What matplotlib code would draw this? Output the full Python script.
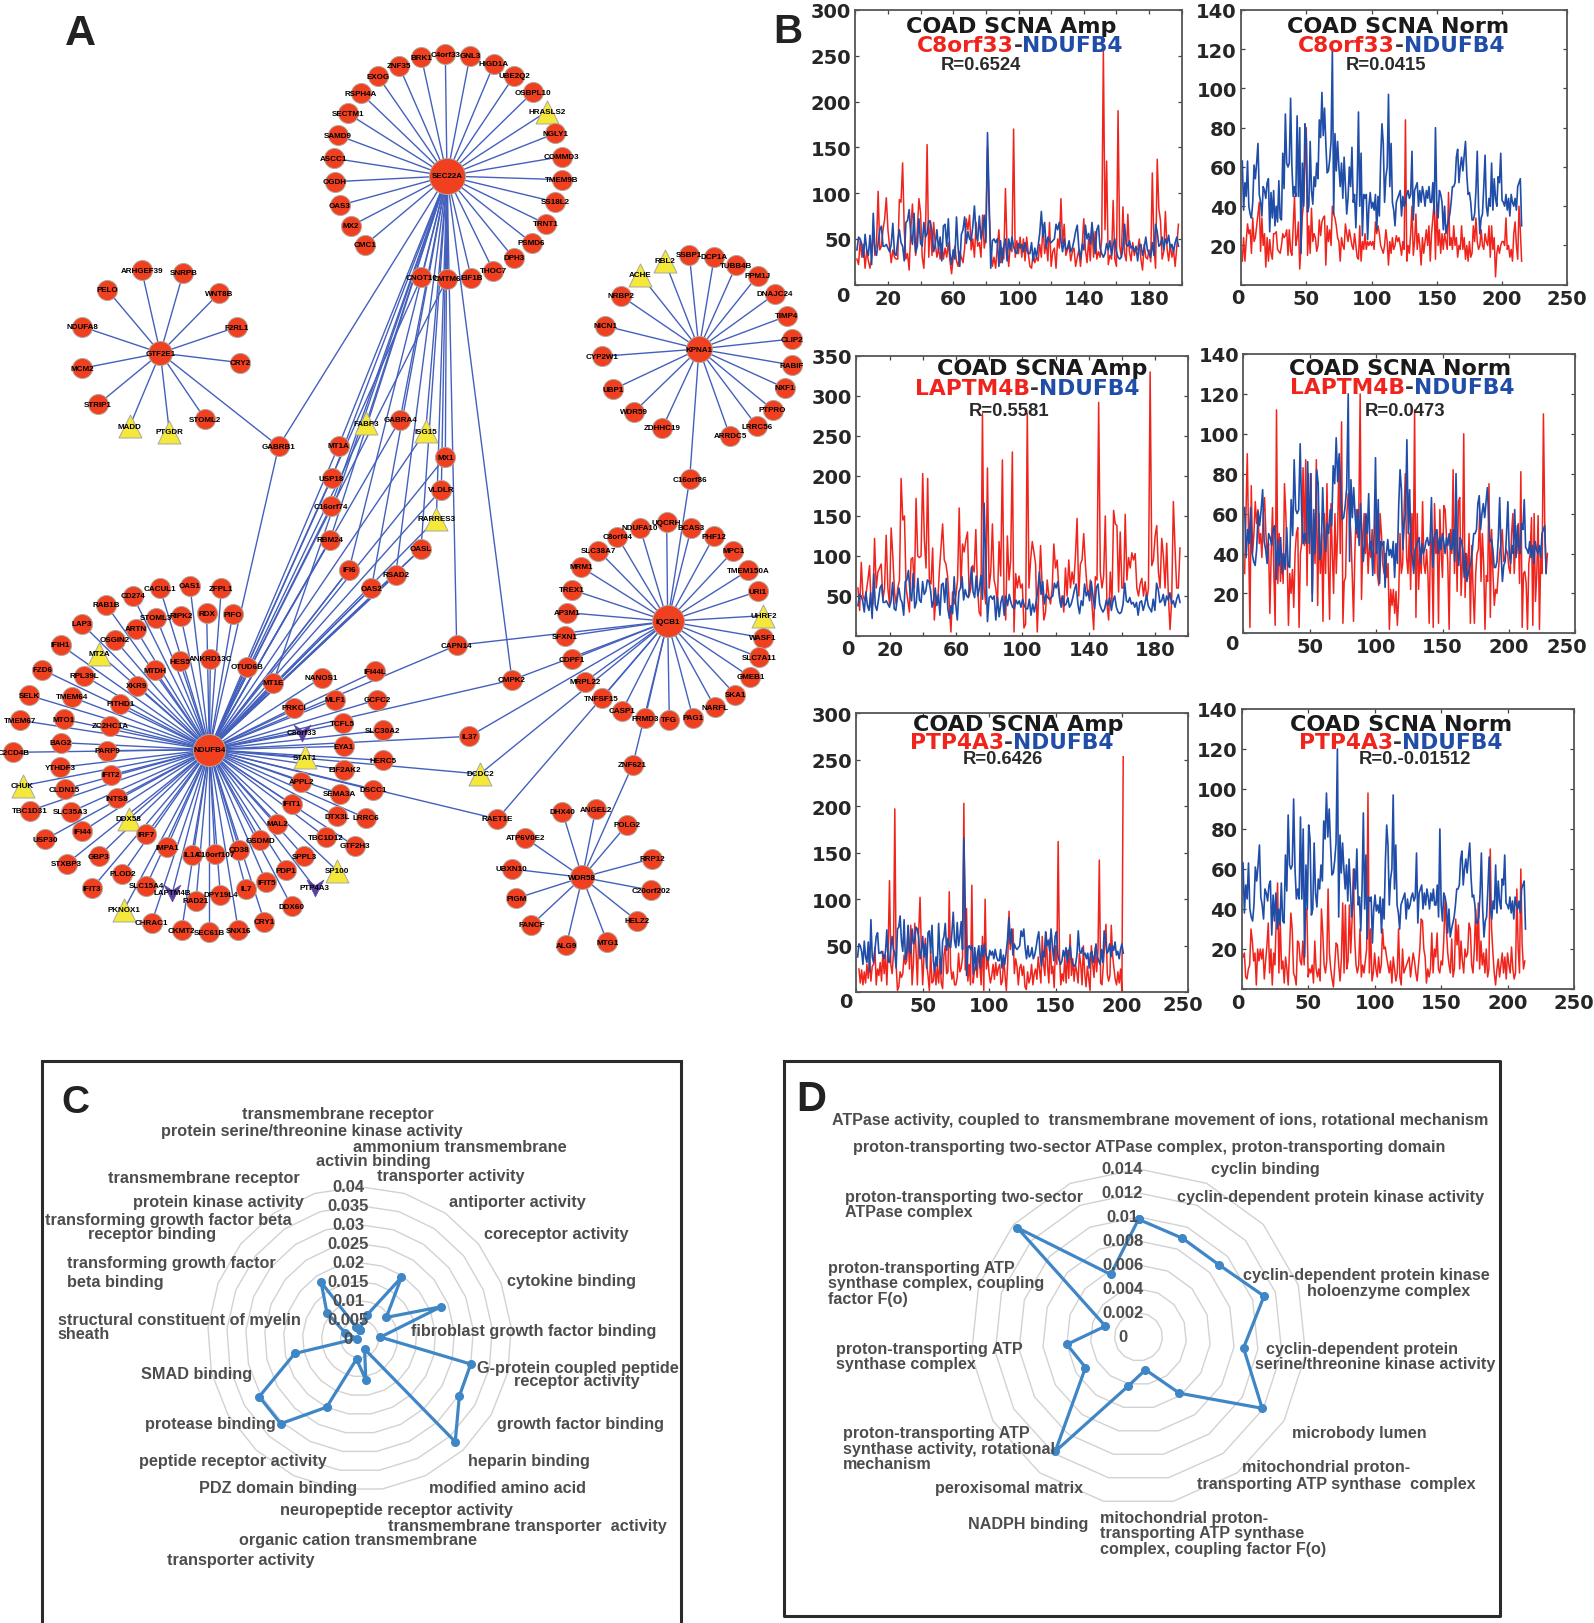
import numpy as np
import matplotlib
matplotlib.use("Agg")
import matplotlib.pyplot as plt
from matplotlib.path import Path

W, H = 1594, 1624

# ---------- panel B data ----------
AMP_BLUE = [38,52,50,44,30,55,38,32,54,22, 78,38,32,45,60,64,42,42,44,40, 36,44,67,34,32,48,60,46,42,26,
 68,70,82,55,44,78,35,42,72,45, 42,68,52,56,70,68,58,36,44,60, 38,52,26,64,66,42,72,34,22,38,
 28,74,40,20,55,60,74,45,58,50, 48,64,86,55,48,75,50,60,76,46, 166,90,18,48,50,46,50,20,48,24,
 42,50,26,50,38,52,42,36,34,45, 40,44,36,46,38,34,34,46,26,40, 30,42,56,80,52,68,40,52,48,46,
 48,50,66,60,68,48,36,50,38,40, 48,36,40,48,58,65,40,28,44,38, 65,50,56,44,68,50,34,60,65,40,
 34,30,34,45,38,48,32,44,50,36, 30,28,30,40,66,44,42,48,40,42, 36,42,26,42,44,32,40,52,38,34,
 30,46,32,66,58,42,44,52,38,50, 45,54,40,44,36,46,52,42]
NORM_BLUE = [63,38,52,45,63,40,36,34,42,61, 54,62,72,46,42,35,50,48,44,52, 54,27,47,34,48,30,40,32,53,34,
 33,67,49,87,62,60,62,95,60,45, 50,45,86,45,80,16,62,40,82,75, 37,40,73,48,41,55,50,62,54,84,
 75,98,76,90,72,57,58,64,73,120, 36,77,58,73,60,50,62,44,65,50, 36,44,60,50,70,42,46,29,50,88,
 40,67,25,46,44,46,23,40,47,39, 42,38,46,28,45,35,64,82,72,42, 55,60,97,50,72,42,38,30,42,44,
 46,48,35,45,40,42,46,48,44,46, 68,33,48,50,52,40,48,42,50,46, 40,48,44,50,42,42,52,36,80,42,
 34,48,46,42,28,40,26,30,33,36, 42,50,50,52,65,69,52,60,65,58, 66,73,56,46,47,42,33,33,36,48,
 68,40,26,34,36,50,66,40,35,44, 40,62,38,54,44,40,55,52,67,43, 42,40,46,38,44,35,46,42,40,44,
 38,50,52,54,30]
C8_AMP = [28,22,48,30,44,18,38,26,18,30, 60,32,45,102,38,42,60,72,95,60, 42,24,38,30,28,28,93,90,133,60,
 28,34,16,60,88,55,32,60,94,78, 30,18,55,153,30,70,32,68,45,30, 40,28,45,28,40,30,46,26,12,30,
 42,26,20,36,30,24,40,72,60,76, 38,50,30,68,42,46,30,76,40,52, 150,80,40,20,30,18,42,60,24,40,
 28,105,40,20,45,36,170,30,48,34, 52,30,50,26,52,34,20,18,34,24, 30,26,44,30,66,34,46,26,68,20,
 36,40,18,50,40,94,45,66,32,38, 44,26,36,40,20,30,38,20,42,72, 38,24,50,26,65,30,58,28,36,30,
 50,255,60,135,22,32,28,92,28,20, 190,42,30,85,34,26,77,36,26,46, 32,40,38,50,28,16,44,30,28,38,
 25,122,42,18,137,83,70,28,36,80, 40,26,44,30,38,20,42,66]
C8_NORM = [12,24,12,22,31,26,28,16,34,22, 24,30,36,42,17,34,20,26,9,24, 12,23,16,13,26,26,27,18,17,16,
 20,26,24,25,28,15,28,17,15,30, 45,20,24,32,8,20,35,42,60,80, 15,30,16,39,22,26,24,17,20,33,
 25,32,34,35,10,30,22,28,20,40, 36,34,30,24,22,12,24,20,18,31, 26,22,28,24,20,18,26,20,14,13,
 30,12,22,18,26,18,22,20,22,20, 22,18,32,26,30,26,20,18,16,20, 28,22,10,22,16,24,18,20,25,22,
 24,20,15,22,18,84,12,20,16,26, 40,15,22,36,18,26,20,10,24,16, 22,28,20,30,12,26,34,42,13,42,
 20,28,16,26,18,26,22,18,47,20, 24,18,30,20,24,14,20,18,30,18, 24,13,20,12,22,14,16,30,22,34,
 22,18,20,28,20,18,26,22,20,30, 14,30,18,24,4,16,20,16,20,22, 22,20,34,18,20,14,18,12,26,32,
 20,13,40,28,12]
LAP_AMP = [60,32,92,50,45,55,70,88,36,40, 122,60,80,85,90,45,60,126,60,40, 135,100,55,40,60,70,197,145,150,60,
 45,30,96,98,60,172,100,98,100,203, 120,85,197,70,65,110,20,50,40,80, 110,140,95,90,75,40,5,55,40,50,
 70,160,60,115,105,120,130,50,60,88, 80,133,60,30,25,278,60,40,210,60, 80,140,70,60,40,118,75,220,50,20,
 125,70,95,230,5,78,60,75,60,65, 10,15,278,60,95,118,105,90,5,60, 113,60,20,30,70,50,40,60,115,85,
 95,60,40,50,30,85,50,95,60,80, 65,100,147,50,90,95,128,90,60,50, 70,40,8,74,70,292,80,60,75,150,
 40,20,80,40,157,140,138,55,130,60, 60,152,70,98,85,104,95,103,60,50, 65,72,50,68,45,60,330,88,95,125,
 138,80,60,122,100,60,116,50,8,45, 168,110,60,60,110]
LAP_NORM = [30,60,90,45,3,74,40,50,66,55, 62,45,50,38,60,68,50,40,45,10, 40,63,30,4,112,25,50,26,40,25,
 75,60,40,4,30,20,32,13,40,50, 53,3,40,45,83,44,87,24,80,40, 80,20,60,35,87,14,60,30,50,6,
 60,30,75,35,7,65,40,20,60,30, 50,88,40,106,5,26,28,60,70,60, 50,30,6,40,62,48,60,120,17,45,
 60,40,52,30,45,38,52,40,30,60, 30,24,60,50,35,30,40,28,35,2, 22,14,22,10,21,4,18,50,30,35,
 60,80,38,30,50,22,60,35,112,8, 60,22,40,30,66,35,30,42,30,5, 50,40,3,65,40,50,5,62,40,28,
 64,62,48,35,2,52,40,82,30,60, 21,66,68,19,36,100,18,40,30,50, 5,44,22,5,30,40,42,60,26,50,
 35,2,29,26,75,8,52,30,14,22, 20,30,40,45,52,36,38,42,40,33, 30,50,60,30,45,40,55,25,81,3,
 30,31,25,2,35,40,58,4,60,16, 30,59,2,40,30,110,55,30,40]
PTP_AMP = [25,10,24,8,22,10,30,15,36,12, 28,30,48,8,25,18,32,12,44,20, 40,8,48,120,30,20,42,197,30,2,
 6,22,16,20,40,30,34,70,25,72, 8,30,74,44,8,65,102,45,8,40, 58,30,18,2,44,10,12,30,8,28,
 10,36,10,4,40,50,20,22,108,28, 14,22,8,8,16,42,22,26,38,203, 24,90,12,30,8,115,10,24,30,16,
 42,30,8,60,2,100,25,38,20,10, 18,30,14,32,18,26,30,8,12,36, 18,2,32,87,46,60,68,20,36,28,
 8,26,30,18,28,6,3,22,10,16, 30,8,20,25,14,38,24,10,60,30, 18,64,28,10,58,20,28,5,50,30,
 162,40,8,20,12,38,10,45,15,62, 18,36,12,30,22,10,42,30,8,50, 20,6,28,15,2,50,30,16,48,22,
 45,142,10,8,30,50,73,20,12,18, 72,40,26,14,8,22,10,25,2,253]
PTP_NORM = [16,18,6,5,10,12,30,24,14,18, 2,20,14,20,15,20,5,14,22,33, 8,20,2,18,12,35,53,8,34,10,
 14,3,16,10,2,20,38,30,8,6, 2,24,23,14,12,24,12,38,40,6, 10,8,12,3,24,10,6,10,4,40,
 28,12,8,14,50,18,10,5,1,12, 23,22,12,4,15,43,8,42,10,14, 42,18,34,60,26,12,8,12,30,6,
 12,8,14,20,98,8,30,4,8,18, 10,6,16,8,12,30,20,21,16,12, 8,14,3,16,10,4,8,30,6,2,
 20,8,10,12,14,16,6,12,18,14, 8,4,12,20,35,34,20,16,3,10, 6,10,28,8,20,16,28,10,8,14,
 12,24,45,30,18,12,8,25,6,10, 35,22,32,10,24,14,8,20,16,18, 33,30,12,8,20,40,14,43,10,24,
 12,18,8,20,6,10,70,30,18,8, 2,10,15,6,12,18,8,16,5,18, 12,8,21,10,5,8,50,20,8,60,22,10,14]

# ---------- panels C, D data ----------
C_VALUES = [.0024,.0065,.0195,.009,.023,.0055,.030,.0303,.037,.003,.011,.0054,.02,.0305,.0305,.0175,.0007,.004,.011,.018,.0033]
C_TICKS = ["0","0.005","0.01","0.015","0.02","0.025","0.03","0.035","0.04"]
D_VALUES = [.0098,.009,.009,.011,.0088,.0119,.0058,.0028,.0042,.0118,.0051,.006,.0029,.0136,.0057]
D_TICKS = ["0","0.002","0.004","0.006","0.008","0.01","0.012","0.014"]
C_LABELS = ["transmembrane receptor","protein serine/threonine kinase activity","ammonium transmembrane","activin binding",
 "transporter activity","antiporter activity","coreceptor activity","cytokine binding","fibroblast growth factor binding",
 "G-protein coupled peptide","receptor activity","growth factor binding","heparin binding","modified amino acid",
 "neuropeptide receptor activity","transmembrane transporter  activity","organic cation transmembrane","transporter activity",
 "PDZ domain binding","peptide receptor activity","protease binding","SMAD binding","structural constituent of myelin","sheath",
 "transforming growth factor","beta binding","transforming growth factor beta","receptor binding","protein kinase activity","transmembrane receptor"]
D_LABELS = ["ATPase activity, coupled to  transmembrane movement of ions, rotational mechanism",
 "proton-transporting two-sector ATPase complex, proton-transporting domain","cyclin binding","cyclin-dependent protein kinase activity",
 "proton-transporting two-sector","ATPase complex","proton-transporting ATP","synthase complex, coupling","factor F(o)",
 "cyclin-dependent protein kinase","holoenzyme complex","cyclin-dependent protein","serine/threonine kinase activity",
 "proton-transporting ATP","synthase complex","proton-transporting ATP","synthase activity, rotational","mechanism","microbody lumen",
 "mitochondrial proton-","transporting ATP synthase  complex","peroxisomal matrix","NADPH binding","mitochondrial proton-",
 "transporting ATP synthase","complex, coupling factor F(o)"]

# label anchors (left edge, centre line) measured on the zoom crops
C_ANCHORS = [(490,178),(303,225),(744,267),(660,306),(800,347),(966,420),(1046,507),(1100,637),(878,775),(1030,875),(1116,912),
 (1076,1031),(1009,1133),(920,1206),(577,1268),(826,1310),(482,1349),(317,1404),(390,1206),(252,1133),(266,1031),(255,893),
 (64,745),(64,782),(86,586),(86,639),(34,470),(134,507),(237,420),(179,353)]
D_ANCHORS = [(112,194),(157,268),(925,328),(852,406),(140,406),(140,446),(104,601),(104,643),(104,685),(994,621),(1131,664),
 (1044,823),(1020,865),(121,823),(121,865),(135,1056),(135,1099),(135,1141),(1099,1056),(993,1148),(896,1196),(334,1207),
 (404,1304),(688,1290),(688,1331),(688,1373)]

# ---------- network (panel A) ----------
# node layouts per zoom crop: (offset x, offset y, scale, {gene: position})
LAYOUT_1 = (0,540,3,{"NDUFB4":(628,632),"CACUL1":(480,148),"OAS1":(570,141),"ZFPL1":(664,148),"CD274":(398,170),"RAB1B":(318,197),
 "LAP3":(245,254),"IFIH1":(182,318),"FZD6":(127,392),"SELK":(87,469),"TMEM67":(60,544),"C2CD4B":(40,640),"BAG2":(182,611),"MTO1":(191,541),
 "TMEM64":(215,474),"RPL39L":(252,410),"OSGIN2":(345,303),"ARTN":(407,270),"STOML3":(469,236),"RIPK2":(542,230),"RDX":(620,223),"PIFO":(698,226),
 "HES5":(539,367),"ANKRD13C":(631,360),"OTUD6B":(741,383),"MT1E":(819,432),"MTDH":(465,394),"XKR9":(411,440),"PITHD1":(361,494),"ZC2HC1A":(330,560),
 "PARP9":(322,635),"MT2A":(298,345),"YTHDF3":(181,685),"CHUK":(68,740),"IFIT2":(333,708),"CLDN15":(194,751),"TBC1D31":(90,815),"SLC35A3":(212,819),
 "INTS8":(350,778),"DDX58":(386,840),"USP30":(136,901),"IFI44":(247,877),"IRF7":(439,886),"GBP3":(296,952),"STXBP3":(200,974),"IMPA1":(501,925),
 "IL1A":(575,947),"C10orf107":(645,946),"CD38":(718,932),"GSDMD":(781,904),"MAL2":(831,854),"IFIT1":(875,795),"IFIT3":(276,1048),"PLOD2":(367,1005),
 "SLC15A4":(439,1040),"LAPTM4B":(517,1062),"RAD21":(588,1085),"DPY19L4":(661,1067),"IL7":(738,1050),"IFIT5":(799,1030),"PDP1":(859,994),"SPPL3":(912,952),
 "TBC1D12":(978,895),"GTF2H3":(1064,921),"LRRC6":(1097,837),"DTX3L":(1012,832),"SEMA3A":(1019,764),"APPL2":(904,728),"STAT1":(915,655),"EIF2AK2":(1033,693),
 "DSCC1":(1120,753),"HERC5":(1149,664),"EYA1":(1031,622),"C8orf33":(905,582),"TCFL5":(1028,553),"SLC30A2":(1149,574),"MLF1":(1005,482),"GCFC2":(1132,482),
 "PRKCI":(881,507),"NANOS1":(965,416),"IFI44L":(1126,397),"PKNOX1":(372,1112),"CHRAC1":(455,1151),"CKMT2":(545,1174),"SEC61B":(628,1180),"SNX16":(715,1174),
 "CRY1":(793,1148),"DDX60":(875,1102),"PTP4A3":(945,1047),"SP100":(1011,995),"OAS2":(1114,148),"RSAD2":(1187,108),"OASL":(1263,30),"IFI6":(1047,92),"RBM24":(990,3)})
LAYOUT_2 = (300,20,3,{"SEC22A":(441,471),"C4orf33":(436,106),"GNL3":(510,110),"HIGD1A":(582,135),"UBE2Q2":(643,170),"OSBPL10":(698,220),"HRASLS2":(740,278),
 "NGLY1":(766,343),"COMMD3":(785,413),"TMEM9B":(786,482),"SS18L2":(766,549),"TRNT1":(738,615),"PSMD6":(695,671),"DPH3":(641,717),"THOC7":(580,755),"EIF1B":(514,777),
 "CMTM6":(441,779),"CNOT10":(364,775),"CMC1":(196,677),"MX2":(153,621),"OAS3":(119,559),"OGDH":(105,488),"ASCC1":(101,418),"SAMD9":(114,349),"SECTM1":(143,283),
 "RSPH4A":(183,223),"EXOG":(234,172),"ZNF35":(297,141),"BRK1":(364,114),"FABP3":(199,1212),"GABRA4":(300,1202),"ISG15":(377,1236),"MT1A":(116,1280),"MX1":(436,1314),
 "USP18":(95,1378),"VLDLR":(424,1412),"C16orf74":(93,1462),"RARRES3":(409,1500),"C16orf86":(1169,1380),"KPNA1":(1197,990),"ACHE":(1020,767),"RBL2":(1094,725),
 "SSBP1":(1168,707),"DCP1A":(1243,713),"TUBB4B":(1309,738),"PPM1J":(1373,770),"NRBP2":(962,830),"NICN1":(916,921),"CYP2W1":(905,1012),"UBP1":(940,1111),
 "WDR59":(1003,1178),"ZDHHC19":(1087,1227),"ARRDC5":(1290,1251),"LRRC56":(1371,1222),"PTPRO":(1418,1172)})
LAYOUT_3 = (0,0,1,{"DNAJC24":(775,295),"TIMP4":(787,317),"CLIP2":(792,340),"RABIF":(792,366),"NXF1":(785,389)})
LAYOUT_6 = (440,480,3,{"IQCB1":(683,427),"UQCRH":(680,130),"BCAS3":(754,146),"PHF12":(822,172),"MPC1":(880,216),"TMEM150A":(925,274),"URI1":(954,337),"UHRF2":(970,410),
 "WASF1":(968,476),"SLC7A11":(957,535),"GMEB1":(931,594),"SKA1":(886,647),"NARFL":(825,685),"PAG1":(759,716),"TFG":(688,722),"FRMD3":(615,718),"CASP1":(546,696),
 "TNFSF15":(485,658),"MRPL22":(435,608),"CDPF1":(395,541),"SFXN1":(375,472),"AP3M1":(382,401),"TREX1":(395,332),"MRM1":(423,264),"SLC38A7":(475,215),"C8orf44":(532,173),
 "NDUFA10":(600,146),"CMPK2":(216,603),"CAPN14":(50,499),"IL37":(88,772),"DCDC2":(120,885),"ZNF621":(578,858),"RAET1E":(172,1020),"WDR58":(427,1195),"DHX40":(367,998),
 "ANGEL2":(467,991),"POLG2":(561,1037),"RRP12":(636,1139),"C20orf202":(634,1234),"HELZ2":(592,1326),"MTG1":(502,1390),"ALG9":(379,1399),"FANCF":(274,1338),"PIGM":(229,1258),
 "UBXN10":(215,1170),"ATP6V0E2":(256,1077)})
LAYOUT_12 = (50,0,3,{"GTF2E1":(331,1062),"ARHGEF39":(275,814),"SNRPB":(400,821),"WNT8B":(507,883),"F2RL1":(560,984),"CRY2":(571,1091),"STOML2":(465,1260),"PTGDR":(358,1298),
 "MADD":(239,1282),"STRIP1":(144,1216),"MCM2":(96,1108),"NDUFA8":(96,983),"PELO":(172,873),"GABRB1":(686,1342)})

TRIANGLES = ["MT2A","CHUK","DDX58","STAT1","SP100","PKNOX1","HRASLS2","FABP3","ISG15","RARRES3","ACHE","RBL2","UHRF2","DCDC2","MADD","PTGDR"]
VEES = ["C8orf33","LAPTM4B","PTP4A3"]
HUB_RADIUS = {"NDUFB4":16,"SEC22A":18,"IQCB1":16,"KPNA1":13,"WDR58":12,"GTF2E1":12}

SHARED_UP = ["MT1A","USP18","C16orf74","RBM24","IFI6","OAS2","RSAD2","OASL","FABP3","GABRA4","ISG15","MX1","VLDLR","RARRES3","CAPN14","CMPK2"]
LINKS = {
 "NDUFB4": [g for g in LAYOUT_1[3] if g != "NDUFB4"] + SHARED_UP + ["IL37","DCDC2","RAET1E","GABRB1","CNOT10","CMTM6"],
 "SEC22A": [g for g in list(LAYOUT_2[3])[1:29]] + SHARED_UP[:]+ ["GABRB1","MT1E"],
 "KPNA1": ["ACHE","RBL2","SSBP1","DCP1A","TUBB4B","PPM1J","NRBP2","NICN1","CYP2W1","UBP1","WDR59","ZDHHC19","ARRDC5","LRRC56","PTPRO","DNAJC24","TIMP4","CLIP2","RABIF","NXF1","C16orf86"],
 "IQCB1": [g for g in list(LAYOUT_6[3])[1:27]] + ["C16orf86","CMPK2","CAPN14","IL37","DCDC2","RAET1E","ZNF621"],
 "WDR58": [g for g in list(LAYOUT_6[3])[34:]] + ["ZNF621"],
 "GTF2E1": [g for g in list(LAYOUT_12[3])[1:]],
}

# ---------- helpers ----------
POS = {}
for ox, oy, s, d in (LAYOUT_1, LAYOUT_2, LAYOUT_3, LAYOUT_6, LAYOUT_12):
    for g, (zx, zy) in d.items():
        POS[g] = (ox + zx / s, oy + zy / s)

def px_rect(l, t, r, b):
    return [l / W, 1 - b / H, (r - l) / W, (b - t) / H]

fig = plt.figure(figsize=(W / 100, H / 100), dpi=100, facecolor="white")

# network layer
net = fig.add_axes([0, 0, 1, 1], zorder=0)
net.set_xlim(0, W); net.set_ylim(H, 0); net.axis("off")
EDGE = "#4460BC"
for hub, genes in LINKS.items():
    for g in genes:
        net.plot([POS[hub][0], POS[g][0]], [POS[hub][1], POS[g][1]], color=EDGE, lw=1.0, zorder=1, solid_capstyle="round")

vee = Path([(-1, 1), (0, .35), (1, 1), (0, -1), (-1, 1)], closed=True)
def size(d):
    return (d * 0.72) ** 2
for g, (x, y) in POS.items():
    if g in TRIANGLES:
        net.scatter([x], [y], marker="^", s=size(23), c="#F4E93A", edgecolors="#A8A8A0", linewidths=.7, zorder=2)
    elif g in VEES:
        net.scatter([x], [y], marker=vee, s=size(17), c="#5A3FA0", edgecolors="#5A3FA0", linewidths=.4, zorder=2)
    else:
        r = HUB_RADIUS.get(g, 10)
        net.scatter([x], [y], marker="o", s=size(2 * r), c="#F0401F", edgecolors="#B0A8A0", linewidths=.7, zorder=2)
    net.text(x, y, g, fontsize=5.8, fontweight="bold", family="Liberation Sans", color="black",
             ha="center", va="center", zorder=3)

# panel B
SERIES_RED = "#F0241C"
SERIES_BLUE = "#1F4DA8"
PANELS = [
 dict(rect=(855.3,11,1181.7,285.7), ymax=300, ystep=50, xmax=200, xstep=20, xlabels=[20,60,100,140,180], red=C8_AMP, red_x0=1,
      blue=AMP_BLUE, blue_map=([1,81,198],[1,81,198]), kind="Amp", gene="C8orf33", r="R=0.6524",
      title=(1011,27), line2=(916.7,46), rpos=(941,65.7), zero=(843,297), extra=None),
 dict(rect=(1241,11,1567.3,285.7), ymax=140, ystep=20, xmax=250, xstep=50, xlabels=[50,100,150,200,250], red=C8_NORM, red_x0=1,
      blue=NORM_BLUE, blue_map=([1,70,215],[1,70,215]), kind="Norm", gene="C8orf33", r="R=0.0415",
      title=(1398,27), line2=(1298,46), rpos=(1346,65), zero=(1238,299), extra=None),
 dict(rect=(856.3,357,1188.3,637), ymax=350, ystep=50, xmax=200, xstep=20, xlabels=[20,60,100,140,180], red=LAP_AMP, red_x0=1,
      blue=AMP_BLUE, blue_map=([1,81,198],[1,77,195]), kind="Amp", gene="LAPTM4B", r="R=0.5581",
      title=(1041.7,369), line2=(915,389), rpos=(969,411.7), zero=(848,650), extra=None),
 dict(rect=(1243.3,355,1575.3,634.3), ymax=140, ystep=20, xmax=250, xstep=50, xlabels=[50,100,150,200], red=LAP_NORM, red_x0=1,
      blue=NORM_BLUE, blue_map=([1,70,215],[1,79,228]), kind="Norm", gene="LAPTM4B", r="R=0.0473",
      title=(1400,369), line2=(1290,388), rpos=(1365,411), zero=(1232,645), extra=(1567,648,"250")),
 dict(rect=(856.3,714,1188.3,993.3), ymax=300, ystep=50, xmax=250, xstep=50, xlabels=[50,100,150,200], red=PTP_AMP, red_x0=2,
      blue=AMP_BLUE, blue_map=([1,81,198],[1,81,201]), kind="Amp", gene="PTP4A3", r="R=0.6426",
      title=(1018,725), line2=(910,743), rpos=(963,760), zero=(846,1003), extra=(1183,1006,"250")),
 dict(rect=(1241.7,710,1574,990), ymax=140, ystep=20, xmax=250, xstep=50, xlabels=[50,100,150,200,250], red=PTP_NORM, red_x0=1,
      blue=NORM_BLUE, blue_map=([1,70,215],[1,72,213.5]), kind="Norm", gene="PTP4A3", r="R=0.-0.01512",
      title=(1401,725), line2=(1299,743), rpos=(1359,760), zero=(1238,1004), extra=None),
]
TICK_FONT = dict(fontsize=14, fontweight="bold", family="DejaVu Sans", color="#262626")
for p in PANELS:
    ax = fig.add_axes(px_rect(*p["rect"]), zorder=2)
    ax.patch.set_alpha(0)
    red = np.array(p["red"], float)
    ax.plot(np.arange(len(red)) + p["red_x0"], red, color=SERIES_RED, lw=1.1, zorder=2)
    blue = np.array(p["blue"], float)
    ax.plot(np.interp(np.arange(1, len(blue) + 1), *p["blue_map"]), blue, color=SERIES_BLUE, lw=1.2, zorder=3)
    ax.set_xlim(0, p["xmax"]); ax.set_ylim(0, p["ymax"])
    xt = np.arange(0, p["xmax"] + 1, p["xstep"])
    ax.set_xticks(xt)
    ax.set_xticklabels([str(int(t)) if int(t) in p["xlabels"] else "" for t in xt], **TICK_FONT)
    yt = np.arange(0, p["ymax"] + 1, p["ystep"])
    ax.set_yticks(yt)
    ax.set_yticklabels(["" if t == 0 else str(int(t)) for t in yt], **TICK_FONT)
    ax.tick_params(direction="in", length=3, width=.9, top=True, right=True, color="#444444", pad=3)
    ax.tick_params(axis="y", pad=3)
    for s in ax.spines.values():
        s.set_linewidth(1.3); s.set_color("#555555")

# top canvas for free text
top = fig.add_axes([0, 0, 1, 1], zorder=5)
top.set_xlim(0, W); top.set_ylim(H, 0); top.axis("off"); top.patch.set_alpha(0)
renderer = fig.canvas.get_renderer()
HEAD = dict(fontweight="bold", family="DejaVu Sans", va="center")
for p in PANELS:
    top.text(*p["zero"], "0", ha="center", va="center", **TICK_FONT)
    if p["extra"]:
        top.text(p["extra"][0], p["extra"][1], p["extra"][2], ha="center", va="center", **TICK_FONT)
    top.text(p["title"][0], p["title"][1], "COAD SCNA " + p["kind"], ha="center", color="#1a1a1a", fontsize=16, **HEAD)
    x, y = p["line2"]
    for piece, col in ((p["gene"], "#F0241C"), ("-", "#333333"), ("NDUFB4", "#1F4DA8")):
        t = top.text(x, y, piece, ha="left", color=col, fontsize=15.7, **HEAD)
        x += t.get_window_extent(renderer).width
    top.text(p["rpos"][0], p["rpos"][1], p["r"], ha="left", va="center", fontsize=13.3, fontweight="bold",
             family="Liberation Sans", color="#2a2a2a")

for letter, x, y, fs in (("A", 80, 34, 31), ("B", 788, 32, 29), ("C", 75, 1103, 28), ("D", 811, 1100, 30)):
    top.text(x, y, letter, ha="center", va="center", fontsize=fs, fontweight="bold", family="Liberation Sans", color="#222222")

# panels C, D: radars
def radar(cx, cy, R, values, ticks, step, tick_x):
    vmax = step * (len(ticks) - 1)
    ax = fig.add_axes(px_rect(cx - R, cy - R, cx + R, cy + R), zorder=3)
    ax.set_xlim(-vmax, vmax); ax.set_ylim(-vmax, vmax); ax.axis("off"); ax.patch.set_alpha(0)
    n = len(values)
    th = np.arange(n) * 2 * np.pi / n
    c = np.r_[th, th[0]]
    for k in range(1, len(ticks)):
        v = k * step
        ax.plot(v * np.sin(c), v * np.cos(c), color="#D2D2D2", lw=1.0, zorder=1, clip_on=False)
    vals = np.r_[values, values[0]]
    ax.plot(vals * np.sin(c), vals * np.cos(c), color="#3F86C6", lw=2.3, marker="o", ms=5.5, zorder=3, clip_on=False)
    for k, lab in enumerate(ticks):
        ax.text(tick_x * vmax, k * step, lab, ha="center", va="center", fontsize=12, fontweight="bold",
                family="Liberation Sans", color="#4d4d4d", zorder=4, clip_on=False)

radar(359.6, 1339.7, 152, np.array(C_VALUES), C_TICKS, .005, -0.075)
radar(1138.5, 1337.9, 168, np.array(D_VALUES), D_TICKS, .002, -0.095)

LAB = dict(fontweight="bold", family="Liberation Sans", color="#4d4d4d", ha="left", va="center")
for s, (zx, zy) in zip(C_LABELS, C_ANCHORS):
    top.text(30 + zx / 2.306, 1050 + zy / 2.751, s, fontsize=11.7, **LAB)
for s, (zx, zy) in zip(D_LABELS, D_ANCHORS):
    top.text(780 + zx / 2.148, 1050 + zy / 2.751, s, fontsize=11.6, **LAB)

# frames of C and D
FRAME = "#2b2b2b"
top.plot([42.5, 42.5], [1624, 1061.5], color=FRAME, lw=2.2, solid_capstyle="butt")
top.plot([42.5, 681.5], [1061.5, 1061.5], color=FRAME, lw=2.2)
top.plot([681.5, 681.5], [1061.5, 1624], color=FRAME, lw=2.2, solid_capstyle="butt")
top.plot([784, 1500, 1500, 784, 784], [1062, 1062, 1617, 1617, 1062], color=FRAME, lw=2.2)

fig.savefig("out.png", dpi=100, facecolor="white")
